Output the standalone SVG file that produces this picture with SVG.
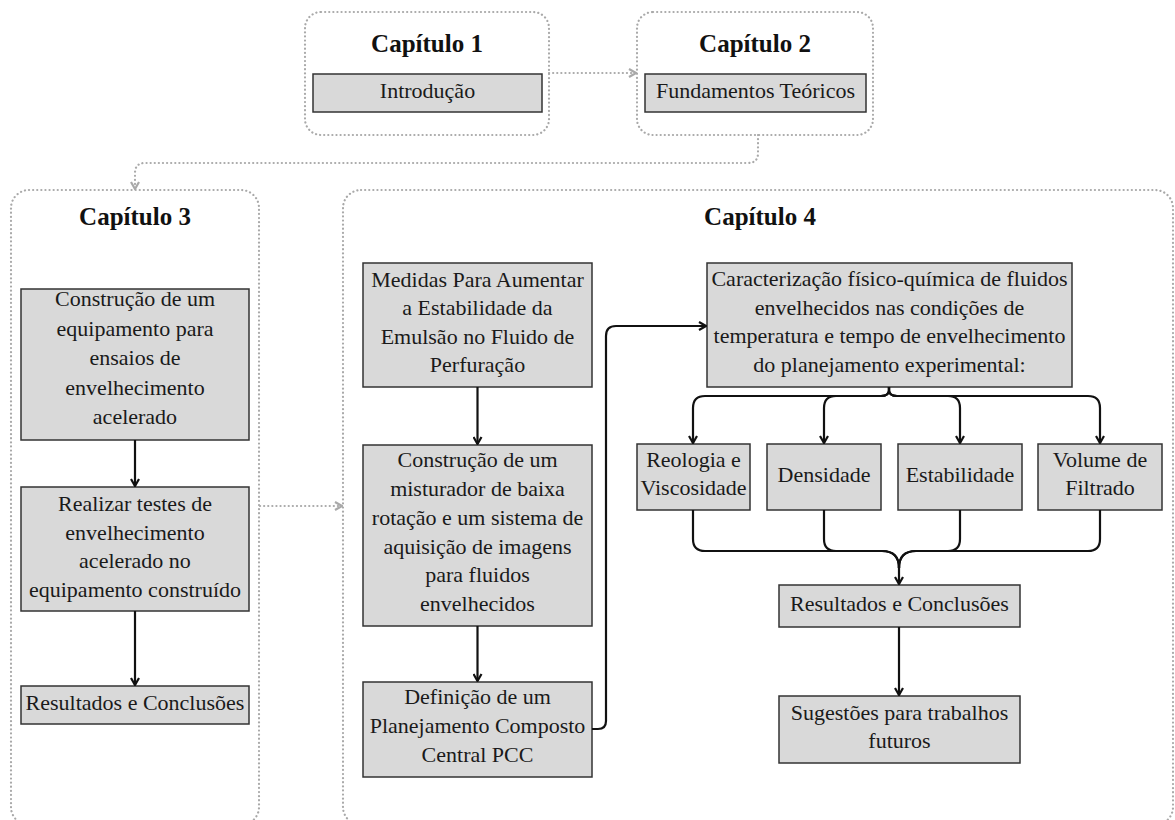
<svg xmlns="http://www.w3.org/2000/svg" width="1175" height="820" viewBox="0 0 1175 820">
  <defs>
    <style>
      .chapter { fill: none; stroke: #a9a9a9; stroke-width: 2.2; stroke-dasharray: 0.1 4; stroke-linecap: round; }
      .box { fill: #d9d9d9; stroke: #333; stroke-width: 1.5; }
      .title { font-family: 'Liberation Serif', 'Times New Roman', serif; font-weight: bold; font-size: 25px; fill: #111; text-anchor: middle; }
      .lbl { font-family: 'Liberation Serif', 'Times New Roman', serif; font-size: 22px; fill: #1a1a1a; text-anchor: middle; }
      .flow { fill: none; stroke: #111; stroke-width: 2.2; }
      .dflow { fill: none; stroke: #a9a9a9; stroke-width: 2.2; stroke-dasharray: 0.1 4; stroke-linecap: round; }
    </style>
    <marker id="arrow" viewBox="0 0 10 10" refX="9" refY="5" markerWidth="10" markerHeight="10" markerUnits="userSpaceOnUse" orient="auto">
      <path d="M2,1 L9,5 L2,9" fill="none" stroke="#111" stroke-width="2.2"/>
    </marker>
    <marker id="darrow" viewBox="0 0 10 10" refX="9" refY="5" markerWidth="10" markerHeight="10" markerUnits="userSpaceOnUse" orient="auto">
      <path d="M2,1 L9,5 L2,9" fill="none" stroke="#a9a9a9" stroke-width="2.2"/>
    </marker>
  </defs>

  <rect width="1175" height="820" fill="#fff"/>

  <!-- chapter frames -->
  <g id="cap1">
    <rect class="chapter" x="305" y="12" width="244" height="123" rx="16"/>
    <text class="title" x="427" y="52">Capítulo 1</text>
    <g id="introducao">
      <rect class="box" x="313" y="74" width="229" height="38"/>
      <text class="lbl" x="427.5" y="98">Introdução</text>
    </g>
  </g>

  <g id="cap2">
    <rect class="chapter" x="637" y="12" width="236" height="123" rx="16"/>
    <text class="title" x="755" y="52">Capítulo 2</text>
    <g id="fundamentos">
      <rect class="box" x="645" y="74" width="221" height="38"/>
      <text class="lbl" x="755.5" y="98">Fundamentos Teóricos</text>
    </g>
  </g>

  <g id="cap3">
    <rect class="chapter" x="11" y="190" width="248" height="635" rx="18"/>
    <text class="title" x="135" y="225">Capítulo 3</text>
  </g>

  <g id="cap4">
    <rect class="chapter" x="343" y="190" width="830" height="635" rx="18"/>
    <text class="title" x="760" y="225">Capítulo 4</text>
  </g>

  <!-- chapter 3 steps -->
  <g id="c3-construcao">
    <rect class="box" x="21" y="289" width="228" height="151"/>
    <text class="lbl" x="135" y="306">Construção de um</text>
    <text class="lbl" x="135" y="335.5">equipamento para</text>
    <text class="lbl" x="135" y="365">ensaios de</text>
    <text class="lbl" x="135" y="394.5">envelhecimento</text>
    <text class="lbl" x="135" y="424">acelerado</text>
  </g>
  <g id="c3-testes">
    <rect class="box" x="21" y="487" width="228" height="124"/>
    <text class="lbl" x="135" y="510.5">Realizar testes de</text>
    <text class="lbl" x="135" y="539.5">envelhecimento</text>
    <text class="lbl" x="135" y="568">acelerado no</text>
    <text class="lbl" x="135" y="597">equipamento construído</text>
  </g>
  <g id="c3-resultados">
    <rect class="box" x="21" y="686" width="228" height="38"/>
    <text class="lbl" x="135" y="710">Resultados e Conclusões</text>
  </g>

  <!-- chapter 4 left column -->
  <g id="c4-medidas">
    <rect class="box" x="363" y="263" width="229" height="124"/>
    <text class="lbl" x="477.5" y="286.5">Medidas Para Aumentar</text>
    <text class="lbl" x="477.5" y="315">a Estabilidade da</text>
    <text class="lbl" x="477.5" y="343.5">Emulsão no Fluido de</text>
    <text class="lbl" x="477.5" y="372">Perfuração</text>
  </g>
  <g id="c4-misturador">
    <rect class="box" x="363" y="445" width="229" height="181"/>
    <text class="lbl" x="477.5" y="467">Construção de um</text>
    <text class="lbl" x="477.5" y="496">misturador de baixa</text>
    <text class="lbl" x="477.5" y="525">rotação e um sistema de</text>
    <text class="lbl" x="477.5" y="553.5">aquisição de imagens</text>
    <text class="lbl" x="477.5" y="582">para fluidos</text>
    <text class="lbl" x="477.5" y="611">envelhecidos</text>
  </g>
  <g id="c4-pcc">
    <rect class="box" x="363" y="682" width="229" height="95"/>
    <text class="lbl" x="477.5" y="704">Definição de um</text>
    <text class="lbl" x="477.5" y="733">Planejamento Composto</text>
    <text class="lbl" x="477.5" y="762">Central PCC</text>
  </g>

  <!-- chapter 4 right column -->
  <g id="c4-caracterizacao">
    <rect class="box" x="707" y="263" width="365" height="124"/>
    <text class="lbl" x="889.5" y="286">Caracterização físico-química de fluidos</text>
    <text class="lbl" x="889.5" y="314.5">envelhecidos nas condições de</text>
    <text class="lbl" x="889.5" y="343">temperatura e tempo de envelhecimento</text>
    <text class="lbl" x="889.5" y="371.5">do planejamento experimental:</text>
  </g>
  <g id="c4-reologia">
    <rect class="box" x="637" y="444" width="113" height="66"/>
    <text class="lbl" x="693.5" y="467">Reologia e</text>
    <text class="lbl" x="693.5" y="495">Viscosidade</text>
  </g>
  <g id="c4-densidade">
    <rect class="box" x="767" y="444" width="114" height="66"/>
    <text class="lbl" x="824" y="482">Densidade</text>
  </g>
  <g id="c4-estabilidade">
    <rect class="box" x="898" y="444" width="124" height="66"/>
    <text class="lbl" x="960" y="482">Estabilidade</text>
  </g>
  <g id="c4-filtrado">
    <rect class="box" x="1038" y="444" width="124" height="66"/>
    <text class="lbl" x="1100" y="467">Volume de</text>
    <text class="lbl" x="1100" y="495">Filtrado</text>
  </g>
  <g id="c4-resultados">
    <rect class="box" x="779" y="585" width="241" height="42"/>
    <text class="lbl" x="899.5" y="611">Resultados e Conclusões</text>
  </g>
  <g id="c4-sugestoes">
    <rect class="box" x="779" y="696" width="241" height="67"/>
    <text class="lbl" x="899.5" y="720">Sugestões para trabalhos</text>
    <text class="lbl" x="899.5" y="748">futuros</text>
  </g>

  <!-- connectors -->
  <g id="connectors">
    <!-- between chapters (dotted) -->
    <path class="dflow" d="M549,73 H636" marker-end="url(#darrow)"/>
    <path class="dflow" d="M758,135 V153 Q758,163 748,163 H145 Q135,163 135,173 V189" marker-end="url(#darrow)"/>
    <path class="dflow" d="M260,506 H342" marker-end="url(#darrow)"/>

    <!-- chapter 3 -->
    <path class="flow" d="M135,440 V486" marker-end="url(#arrow)"/>
    <path class="flow" d="M135,611 V685" marker-end="url(#arrow)"/>

    <!-- chapter 4 left column -->
    <path class="flow" d="M477.5,387 V444" marker-end="url(#arrow)"/>
    <path class="flow" d="M477.5,626 V681" marker-end="url(#arrow)"/>
    <path class="flow" d="M592,729 H598 Q606,729 606,721 V336 Q606,326 616,326 H706" marker-end="url(#arrow)"/>

    <!-- fan-out to the four measurements -->
    <path class="flow" d="M889,387 V390 Q889,396 881,396 H705 Q693,396 693,408 V443" marker-end="url(#arrow)"/>
    <path class="flow" d="M889,387 V390 Q889,396 881,396 H836 Q824,396 824,408 V443" marker-end="url(#arrow)"/>
    <path class="flow" d="M889,387 V390 Q889,396 897,396 H948 Q960,396 960,408 V443" marker-end="url(#arrow)"/>
    <path class="flow" d="M889,387 V390 Q889,396 897,396 H1088 Q1100,396 1100,408 V443" marker-end="url(#arrow)"/>

    <!-- fan-in to results -->
    <path class="flow" d="M693,510 V539 Q693,551 705,551 H882 Q899,551 899,568"/>
    <path class="flow" d="M824,510 V539 Q824,551 836,551 H882 Q899,551 899,568"/>
    <path class="flow" d="M960,510 V539 Q960,551 948,551 H916 Q899,551 899,568"/>
    <path class="flow" d="M1100,510 V539 Q1100,551 1088,551 H916 Q899,551 899,568"/>
    <path class="flow" d="M899,566 V584" marker-end="url(#arrow)"/>

    <path class="flow" d="M899,627 V695" marker-end="url(#arrow)"/>
  </g>
</svg>
